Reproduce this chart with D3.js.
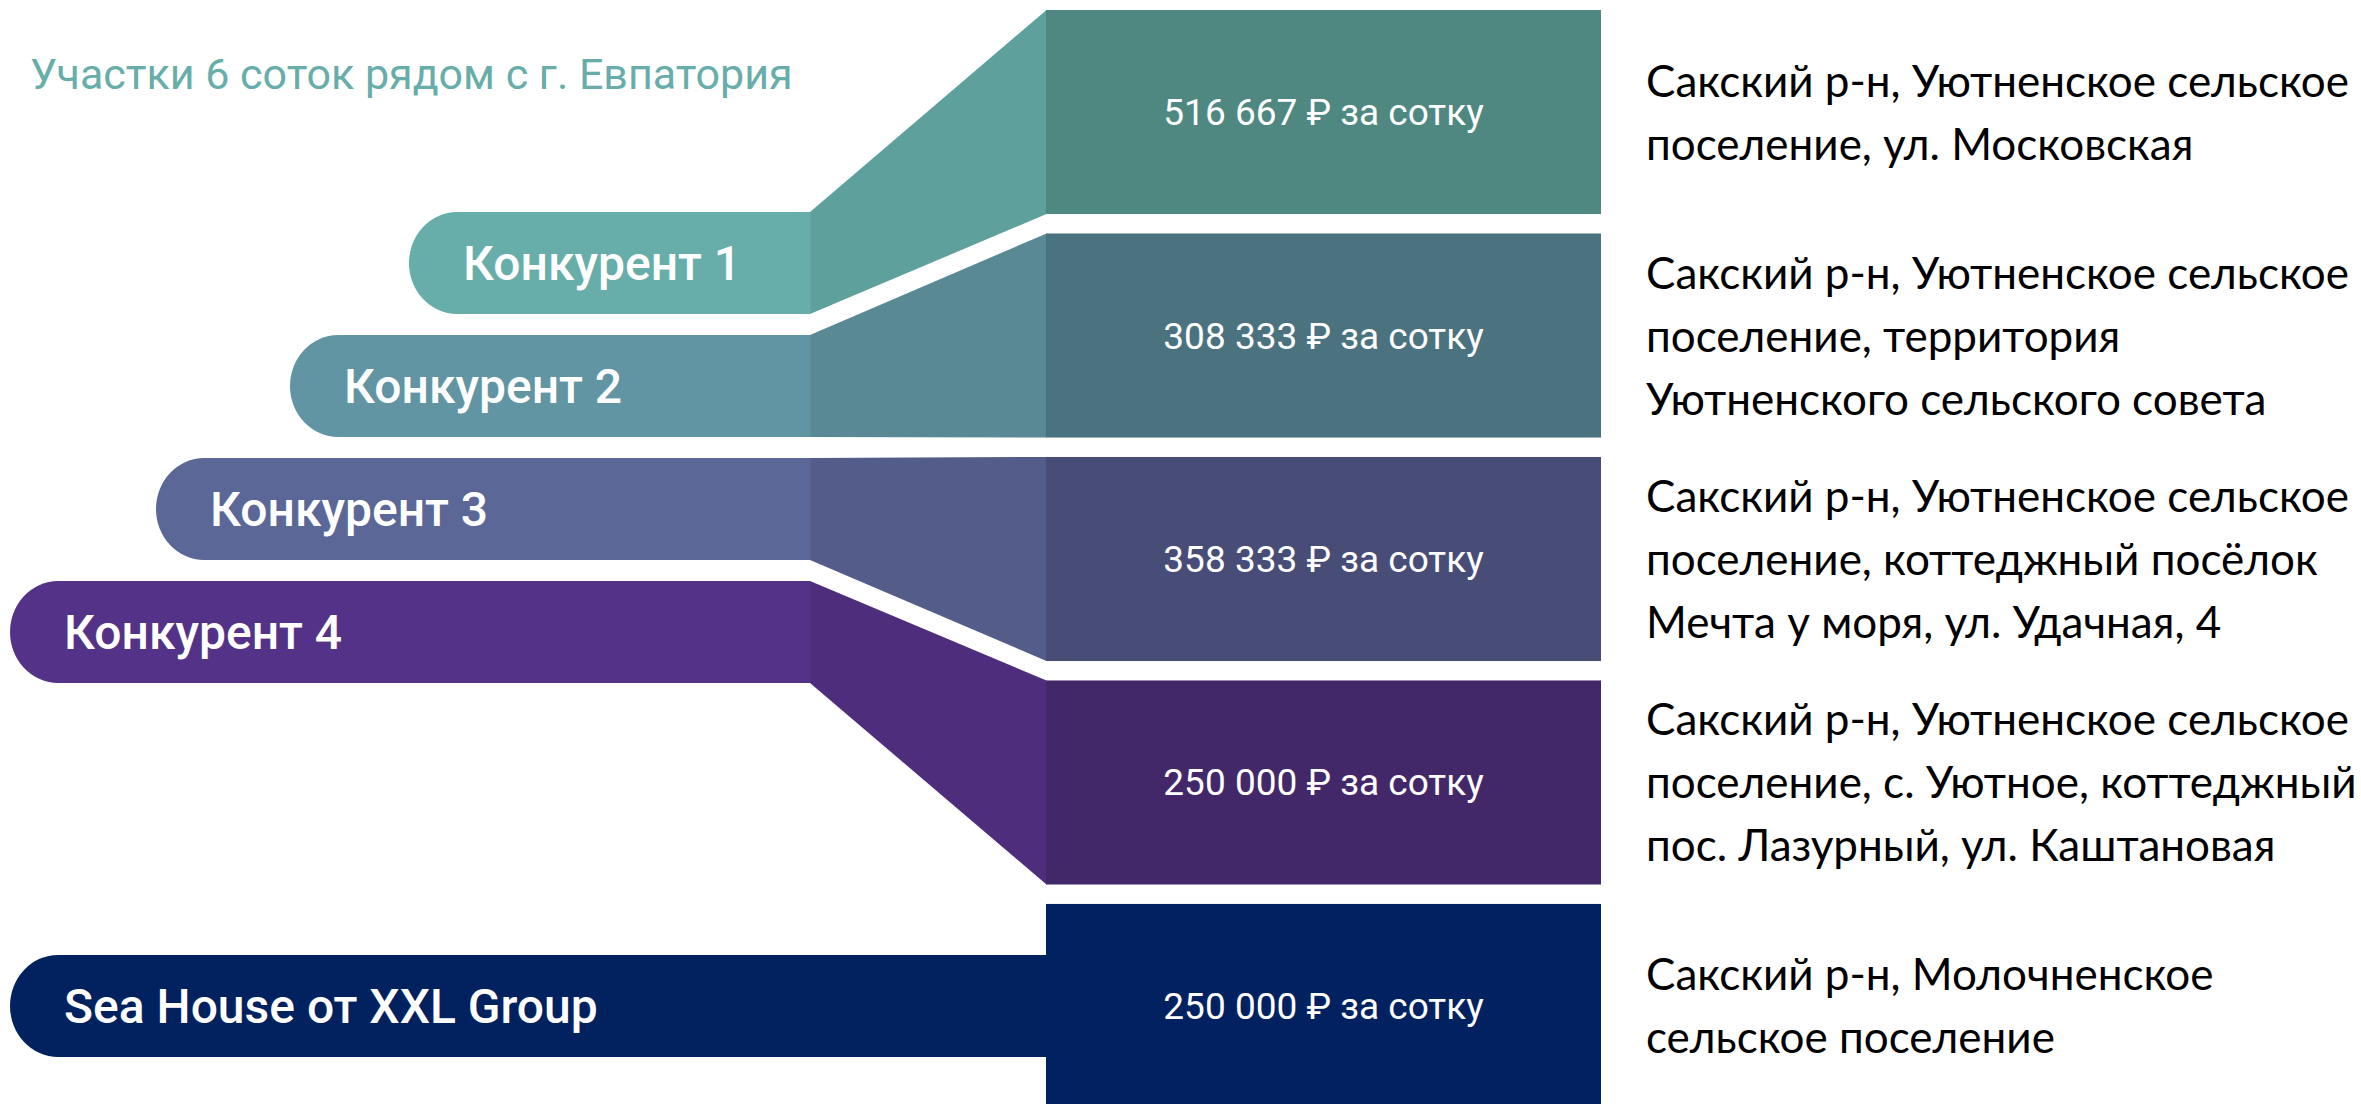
<!DOCTYPE html>
<html>
<head>
<meta charset="utf-8">
<script src="https://cdn.jsdelivr.net/npm/d3@7"></script>
<style>
  html, body { margin: 0; padding: 0; background: #fff; }
  svg { display: block; }
</style>
</head>
<body>
<div id="chart"></div>
<script>
// данные
const title = "Участки 6 соток рядом с г. Евпатория";
const categories = ["Конкурент 1", "Конкурент 2", "Конкурент 3", "Конкурент 4", "Sea House от XXL Group"];
const prices = [516667, 308333, 358333, 250000, 250000];
const addresses = [
  ["Сакский р-н, Уютненское сельское", "поселение, ул. Московская"],
  ["Сакский р-н, Уютненское сельское", "поселение, территория", "Уютненского сельского совета"],
  ["Сакский р-н, Уютненское сельское", "поселение, коттеджный посёлок", "Мечта у моря, ул. Удачная, 4"],
  ["Сакский р-н, Уютненское сельское", "поселение, с. Уютное, коттеджный", "пос. Лазурный, ул. Каштановая"],
  ["Сакский р-н, Молочненское", "сельское поселение"]
];
const highlight = "Sea House от XXL Group";

// цвета: плашка, переход, блок цены
const pillColors = ["#67ada9", "#6195a3", "#5a6797", "#533287", "#02215f"];
const linkColors = ["#5ea19c", "#598995", "#545c8a", "#4e2d7d", "#02215f"];
const boxColors  = ["#4e8881", "#4b727f", "#474d77", "#432869", "#022160"];

const width = 2361, height = 1104;
const pillRight = 810, boxLeft = 1046, boxRight = 1601, textLeft = 1646;
const pillH = 102, lineH = 63;

const svg = d3.select("#chart").append("svg")
    .attr("width", width).attr("height", height);

const fmt = v => d3.format(",")(v).replace(/,/g, " ") + " \u20bd за сотку";

// блоки цен
const y = d3.scaleBand()
    .domain(categories)
    .range([10, 1108])
    .paddingInner(0.087);

// плашки конкурентов идут лесенкой, своя — напротив своего блока
const pillY = d3.scalePoint()
    .domain(categories.filter(c => c !== highlight))
    .range([263, 632]);
const pillCy = c => c === highlight ? y(c) + y.bandwidth() / 2 : pillY(c);

const pillX = d3.scaleOrdinal()
    .domain(categories)
    .range([409, 290, 156, 10, 10]);

const color = (arr) => d3.scaleOrdinal().domain(categories).range(arr);
const cPill = color(pillColors), cLink = color(linkColors), cBox = color(boxColors);

const rows = categories.map((c, i) => ({c, price: prices[i], addr: addresses[i]}));

// заголовок
svg.append("text")
    .attr("x", 30).attr("y", 89)
    .attr("font-family", "Roboto")
    .attr("font-size", 43)
    .attr("fill", "#67ada9")
    .text(title);

// переходы
svg.selectAll("path.link")
  .data(rows)
  .enter().append("path")
    .attr("class", "link")
    .attr("fill", d => cLink(d.c))
    .attr("d", d => {
      const t0 = pillCy(d.c) - pillH / 2, b0 = t0 + pillH;
      let t1 = y(d.c), b1 = y(d.c) + y.bandwidth();
      if (d.c === highlight) { t1 = t0; b1 = b0; }
      return `M${pillRight},${t0}L${boxLeft + 0.5},${t1}L${boxLeft + 0.5},${b1}L${pillRight},${b0}Z`;
    });

// плашки с закруглённым левым краем
svg.selectAll("path.pill")
  .data(rows)
  .enter().append("path")
    .attr("class", "pill")
    .attr("fill", d => cPill(d.c))
    .attr("d", d => {
      const x0 = pillX(d.c), t = pillCy(d.c) - pillH / 2, b = t + pillH;
      const x1 = d.c === highlight ? boxLeft + 0.5 : pillRight + 0.5;
      const rx = 48, ry = pillH / 2;
      return `M${x1},${t}L${x0 + rx},${t}A${rx},${ry} 0 0 0 ${x0},${t + ry}` +
             `A${rx},${ry} 0 0 0 ${x0 + rx},${b}L${x1},${b}Z`;
    });

svg.selectAll("text.pill-label")
  .data(rows)
  .enter().append("text")
    .attr("class", "pill-label")
    .attr("x", d => pillX(d.c) + 54)
    .attr("y", d => pillCy(d.c) + 17)
    .attr("font-family", "Roboto")
    .attr("font-weight", 500)
    .attr("font-size", 48)
    .attr("fill", "#fff")
    .text(d => d.c);

// блоки цен
svg.selectAll("rect.box")
  .data(rows)
  .enter().append("rect")
    .attr("class", "box")
    .attr("x", boxLeft)
    .attr("y", d => y(d.c))
    .attr("width", boxRight - boxLeft)
    .attr("height", y.bandwidth())
    .attr("fill", d => cBox(d.c));

svg.selectAll("text.price")
  .data(rows)
  .enter().append("text")
    .attr("class", "price")
    .attr("x", (boxLeft + boxRight) / 2)
    .attr("y", d => y(d.c) + y.bandwidth() / 2 + 13)
    .attr("text-anchor", "middle")
    .attr("font-family", "Roboto")
    .attr("font-size", 37)
    .attr("fill", "#fff")
    .text(d => fmt(d.price));

// адреса
const addr = svg.selectAll("text.addr")
  .data(rows)
  .enter().append("text")
    .attr("class", "addr")
    .attr("font-family", "Lato, 'Open Sans', sans-serif")
    .attr("font-size", 44)
    .attr("fill", "#000");

addr.selectAll("tspan")
  .data(d => d.addr.map((line, i) => ({line, i, n: d.addr.length, cy: y(d.c) + y.bandwidth() / 2})))
  .enter().append("tspan")
    .attr("x", textLeft)
    .attr("y", t => t.cy + (t.i - (t.n - 1) / 2) * lineH + 16)
    .text(t => t.line);
</script>
</body>
</html>
